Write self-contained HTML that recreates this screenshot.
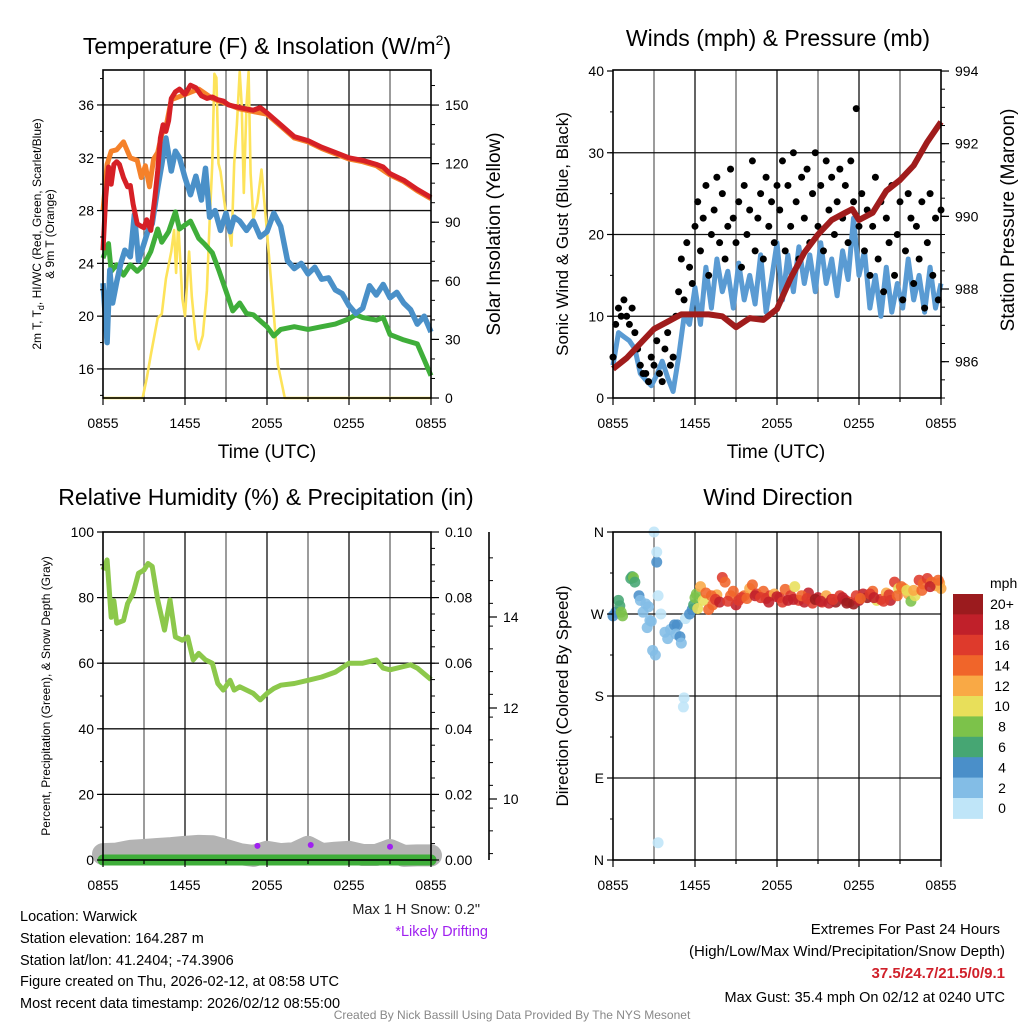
<!DOCTYPE html>
<html><head><meta charset="utf-8"><title>Mesonet Station Summary</title>
<style>
html,body{margin:0;padding:0;background:#fff;}
svg{display:block;font-family:"Liberation Sans",Arial,sans-serif;}
</style></head>
<body>
<svg id="fig" width="1024" height="1024" viewBox="0 0 1024 1024" xmlns="http://www.w3.org/2000/svg">
<rect x="0" y="0" width="1024" height="1024" fill="#fff"/>
<text x="267" y="54" font-size="23" text-anchor="middle">Temperature (F) &amp; Insolation (W/m<tspan font-size="14" dy="-9">2</tspan><tspan dy="9">)</tspan></text>
<text x="778" y="46" font-size="23" text-anchor="middle">Winds (mph) &amp; Pressure (mb)</text>
<text x="266" y="505" font-size="23" text-anchor="middle">Relative Humidity (%) &amp; Precipitation (in)</text>
<text x="778" y="505" font-size="23" text-anchor="middle">Wind Direction</text>
<text x="267" y="458" font-size="19" text-anchor="middle">Time (UTC)</text>
<text x="776" y="458" font-size="19" text-anchor="middle">Time (UTC)</text>
<text transform="translate(41,234) rotate(-90)" font-size="12" text-anchor="middle">2m T, T<tspan font-size="9" dy="3">d</tspan><tspan dy="-3">, HI/WC (Red, Green, Scarlet/Blue)</tspan></text>
<text transform="translate(54,234) rotate(-90)" font-size="12" text-anchor="middle">&amp; 9m T (Orange)</text>
<text transform="translate(500,234) rotate(-90)" font-size="19" text-anchor="middle">Solar Insolation (Yellow)</text>
<text transform="translate(568,234) rotate(-90)" font-size="17" text-anchor="middle">Sonic Wind &amp; Gust (Blue, Black)</text>
<text transform="translate(1014,220) rotate(-90)" font-size="19" text-anchor="middle">Station Pressure (Maroon)</text>
<text transform="translate(50,696) rotate(-90)" font-size="12" text-anchor="middle">Percent, Precipitation (Green), &amp; Snow Depth (Gray)</text>
<text transform="translate(568,696) rotate(-90)" font-size="17" text-anchor="middle">Direction (Colored By Speed)</text>
<text x="480" y="914" font-size="14.5" text-anchor="end" fill="#222">Max 1 H Snow: 0.2"</text>
<text x="488" y="936" font-size="14.5" text-anchor="end" fill="#a020f0">*Likely Drifting</text>
<g font-size="14.5" fill="#000">
<text x="20" y="921">Location: Warwick</text>
<text x="20" y="943">Station elevation: 164.287 m</text>
<text x="20" y="965">Station lat/lon: 41.2404; -74.3906</text>
<text x="20" y="986">Figure created on Thu, 2026-02-12, at 08:58 UTC</text>
<text x="20" y="1008">Most recent data timestamp: 2026/02/12 08:55:00</text>
</g>
<g font-size="15" text-anchor="end">
<text x="1000" y="934">Extremes For Past 24 Hours</text>
<text x="1005" y="956">(High/Low/Max Wind/Precipitation/Snow Depth)</text>
<text x="1005" y="978" fill="#d0202a" font-weight="bold">37.5/24.7/21.5/0/9.1</text>
<text x="1005" y="1002" font-size="14.5">Max Gust: 35.4 mph On 02/12 at 0240 UTC</text>
</g>
<text x="512" y="1019" font-size="12" fill="#888" text-anchor="middle">Created By Nick Bassill Using Data Provided By The NYS Mesonet</text>
</svg>
<script>
// ---------- DATA ----------
const timeTickLabels = ["0855","1455","2055","0255","0855"];
const tempTicks = [16,20,24,28,32,36];
const solarTicks = [0,30,60,90,120,150];
const windTicks = [0,10,20,30,40];
const presTicks = [986,988,990,992,994];
const rhTicks = [0,20,40,60,80,100];
const precipTicks = [0,0.02,0.04,0.06,0.08,0.10];
const snowTicks = [10,12,14];
const dirTickLabels = ["N","E","S","W","N"];
const dirTicks = [0,90,180,270,360];

const tempHrs = [0,0.2,0.4,0.6,0.8,1.0,1.2,1.5,1.8,2.0,2.2,2.5,2.8,3.0,3.2,3.5,3.8,4.0,4.2,4.4,4.6,4.8,5.0,5.3,5.6,6.0,6.4,6.8,7.2,7.6,8.0,8.4,8.8,9.2,9.6,10,10.5,11,11.5,12,13,14,15,16,17,18,19,20,20.5,21,22,23,24];
const tempVals = [25,29,31.3,30,31.5,31.7,31.5,30.5,29.8,29.9,28.5,27,26.8,26.7,27.3,26.5,29,31,33.5,34.5,34,34.8,36.5,37,37.2,36.8,37.5,37.3,36.7,36.5,36.6,36.4,36.3,36,35.9,35.8,35.7,35.6,35.8,35.4,34.5,33.6,33.3,32.8,32.4,32,31.8,31.5,31.3,30.8,30.3,29.6,29.0];
const t9Hrs = [0,0.3,0.6,1,1.5,2,2.5,2.8,3.1,3.4,3.7,4,4.3,4.6,5,6,7,8,9,10,11,12,13,14,15,16,17,18,19,20,21,22,23,24];
const t9Vals = [28,31.5,32.5,32.6,33.2,32,31.8,30.5,31.4,29.8,31.9,32.4,33.8,34.3,36.4,36.8,37.2,36.5,36.1,35.7,35.5,35.3,34.4,33.5,33.2,32.7,32.3,31.9,31.7,31.4,30.7,30.2,29.5,28.9];
const wcHrs = [0,0.3,0.5,0.7,1,1.3,1.6,2,2.3,2.6,3,3.3,3.6,4,4.3,4.6,5,5.3,5.6,6,6.4,6.8,7.2,7.5,7.8,8.2,8.6,9,9.3,9.6,10,10.5,11,11.5,12,12.5,13,13.5,14,14.5,15,15.5,16,16.5,17,17.5,18,18.5,19,19.5,20,20.5,21,21.5,22,22.5,23,23.5,24];
const wcVals = [22.5,18,23.5,21,22.6,24,25,24.5,27.7,24.2,25.5,26.5,27,29.7,31.5,33.5,31,32.5,32,30.5,29.2,30.6,28.8,31.2,27.5,28,26.5,27.8,26.4,27.5,27.2,26.5,27.2,26,26.4,27.8,26.8,24.2,23.6,24,23.2,23.7,22.8,22.9,22,21.7,20.8,20.2,20.6,22.3,21.6,22.4,21.4,21.8,21,20.5,19.4,20,18.8];
const dewHrs = [0,0.4,0.6,1,1.5,2,2.5,3,3.5,4,4.3,4.8,5.3,5.6,6,6.4,7,7.4,8,8.5,9,9.5,10,10.5,11,12,12.5,13,14,15,16,17,18,18.5,19,20,20.5,21,22,23,23.5,24];
const dewVals = [24.4,25.5,23.4,23.9,23.1,23.9,23.4,23.9,24.9,26.6,25.6,26.4,27.9,26.6,26.9,27.2,25.9,25.5,24.8,23.4,21.9,20.4,21,20.2,20.1,19.2,18.5,19,19.2,19,19.2,19.4,19.8,20.1,19.9,19.7,19.9,18.6,18.2,17.9,16.7,15.5];
const solarHrs = [0,2.9,3.2,3.5,4,4.3,4.6,5,5.2,5.35,5.5,5.8,6,6.3,6.5,6.8,7,7.3,7.6,7.8,8,8.15,8.3,8.45,8.6,9,9.4,9.6,9.8,10,10.15,10.3,10.5,10.65,10.8,11,11.3,11.6,12,12.4,12.8,13.3,24];
const solarVals = [0,0,10,22,41,43,61,75,86,64,90,51,42,75,52,30,25,32,55,90,120,166,164,120,116,94,78,120,140,167,150,105,150,167,115,92,100,117,85,51,17,0,0];

const windStep = 0.4;
const windVals = [4,8,7.5,7,6,3,2.2,1.5,2.8,4.5,2.5,0.8,5,10,9,13.5,9,16,11,17,13,15.5,11,16.5,12,15,11.5,17.5,10.5,14.5,19,12,17.5,13,18.5,14,17.5,13,19,14,17,12.5,18,14.5,22,15,18,11,15,10,16,10.5,14,11,17,12,15,10.5,16,11,14];
const gustStep = 0.2;
const gustVals = [5,9,11,10,12,10,9,11,8, 6,4,3,3,2,5,4, 7,3,2,6,8,4,5, 10,13,17,12,19,16,14,21,
 24,18,22,26,15,20,23,27,19,25,17,21,28,22,19,24,16,26,20,23,29,18,22,25,17,27,21,24,19,26,
 23,29,18,26,21,30,24,17,27,22,28,19,25,30,21,26,18,29,23,27,20,24,28,22,26,19,29,24,35.4,21,
 25,18,23,15,21,27,17,24,13,22,19,26,15,20,24,12,18,25,22,14,21,17,24,11,19,25,15,22,12,23];
const presHrs = [0,1,2,3,4,5,6,7,8,9,10,11,12,13,14,15,16,17,17.5,18,19,20,21,22,23,24];
const presVals = [985.8,986.1,986.5,986.9,987.1,987.3,987.3,987.3,987.25,986.95,987.2,987.15,987.45,988.3,989.0,989.5,989.9,990.1,990.2,989.9,990.1,990.7,991.0,991.4,992.05,992.6];

const rhHrs = [0,0.3,0.6,0.8,1,1.5,1.8,2.2,2.6,3,3.3,3.6,4,4.5,4.9,5.3,5.8,6.2,6.6,7,7.5,8,8.4,8.8,9.3,9.6,10,11,11.5,12,12.5,13,14,15,16,17,18,19,20,20.5,21,22,22.5,23,24];
const rhVals = [88.4,91.5,74,79,72.2,73,78.2,81.3,87.4,88.4,90.4,89.5,79.3,70.1,79.3,68,67,68,61,63,61,60,53.8,51.8,54.8,51.8,52.8,50.8,48.8,50.8,52.3,53.3,53.8,54.8,55.8,57.3,60,60,61,58.5,58,59,59.5,58.5,55];
const precipVals = [0,0,0,0,0,0,0,0,0,0,0,0,0,0,0,0,0,0,0,0,0,0,0,0,0];
const snowVals = [8.79,8.80,8.86,8.88,8.90,8.92,8.95,8.97,8.96,8.88,8.79,8.75,8.84,8.79,8.81,8.95,8.79,8.82,8.84,8.77,8.77,8.88,8.75,8.76,8.76];
const driftHrs = [11.3,15.2,21.0];
const driftVals = [8.97,8.99,8.95];

const dirHrs = [0,0.2,0.4,0.5,0.6,0.7,1.3,1.4,1.5,1.6,1.9,2.0,2.2,2.4,2.6,2.8,2.5,2.7,3.1,2.9,3.2,3.0,3.2,3.3,3.5,3.8,4.0,4.2,4.5,4.7,4.6,4.9,5.0,5.2,5.15,3.3,5.3,5.6,5.8,5.9,6.0,6.1,6.2,6.6,7.0,7.3,7.6,8.0,8.2,8.6,9.0,9.2,9.6,10.0,10.2,10.5,11.0,11.2,11.5,11.8,12.2,12.6,13.0,13.3,13.6,14.0,14.3,14.6,15.0,15.3,15.6,16.0,16.3,16.6,17.0,17.3,17.6,18.0,18.3,18.6,19.0,19.3,19.6,20.0,20.3,20.6,20.9,21.3,21.6,21.8,22.1,22.4,22.7,23.0,23.3,23.6,23.9,24.0,
 6.4,6.8,7.2,7.5,7.8,8.4,8.8,9.4,9.8,10.4,10.8,11.4,12.0,12.4,12.8,13.2,13.8,14.2,14.8,15.2,15.8,16.1,16.8,17.1,17.8,18.1,18.8,19.1,19.8,20.2,20.8,21.1,21.5,22.0,22.6,23.2,23.8];
const dirDegs = [268,272,285,279,272,268,309,311,310,305,290,285,272,281,278,262,255,263,225,230,327,360,338,290,270,250,243,253,258,258,248,245,238,178,168,19,265,270,275,280,288,292,276,285,275,280,291,310,305,290,280,285,290,298,302,292,295,287,290,292,288,297,290,300,285,283,293,282,288,283,290,286,283,290,285,283,281,285,292,288,295,285,286,293,285,305,298,298,292,284,290,307,303,309,305,301,304,298,
 300,293,290,286,283,284,295,288,287,290,288,283,289,283,285,286,290,287,286,284,282,286,288,282,290,287,292,288,284,291,290,300,296,296,296,300,307];
const dirSpds = [4,4,7,6,8,8,7,6,8,6,4,3,3,2,3,2,2,2,2,2,4,0,1,1,1,3,3,2,4,4,3,4,3,0,0,0,1,4,5,6,8,8,10,10,14,14,12,16,14,15,18,17,14,12,14,16,14,18,16,12,16,14,16,10,16,18,18,16,18,16,13,18,20,16,18,16,20,18,18,20,14,10,16,12,18,16,10,12,12,8,10,16,14,16,14,12,12,12,
 12,14,14,16,18,16,14,16,14,18,16,18,18,16,18,18,14,16,20,18,18,16,18,20,16,14,16,18,16,16,14,14,10,12,14,18,14];
const speedLabels = ["0","2","4","6","8","10","12","14","16","18","20+"];
const speedColors = ["#bfe5f8","#83bde6","#4a8fc9","#46a673","#7cc24a","#e8df5a","#f9a945","#f0652a","#de3a2c","#c0202a","#9b1b1e"];

// ---------- SCALES ----------
const NS = "http://www.w3.org/2000/svg";
const svg = document.getElementById("fig");
const HRPX = 13.667;
const xL = h => 103 + h*HRPX;
const xR = h => 613 + h*HRPX;
const tempY = t => 398 - (t-13.8)*13.2;
const solarY = s => 398 - s*1.953;
const windY = w => 398 - w*8.175;
const presY = p => 398 - (p-985)*36.33;
const rhY = r => 860 - r*3.28;
const precipY = p => 860 - p*3280;
const snowY = s => 799 - (s-10)*45.5;
const dirY = d => 860 - d*0.9111;

function mk(tag, attrs, parent){
  const e = document.createElementNS(NS, tag);
  for (const k in attrs) e.setAttribute(k, attrs[k]);
  (parent||svg).appendChild(e);
  return e;
}
function poly(hrs, vals, xf, yf){
  let pts = [];
  const n = Math.min(hrs.length, vals.length);
  for (let i=0;i<n;i++) pts.push(xf(hrs[i]).toFixed(1)+","+yf(vals[i]).toFixed(1));
  return pts.join(" ");
}

// ---------- FRAMES / GRIDS ----------
function frame(x0, y0, name){
  const g = mk("g", {});
  
  
  for (let k=1;k<8;k++){
    const x = x0 + k*41;
    const l = mk("line", {x1:x, y1:y0, x2:x, y2:y0+328, stroke: k%2? "#666":"#111", "stroke-width":1.3}, g);
    
    
  }
  return g;
}
function hgrid(g, x0, ys){
  ys.forEach(y=>{
    const l = mk("line", {x1:x0, y1:y, x2:x0+328, y2:y, stroke:"#111", "stroke-width":1.3}, g);
    
    
  });
}
function border(x0,y0,name){
  const r = mk("rect", {x:x0, y:y0, width:328, height:328, fill:"none", stroke:"#000", "stroke-width":1.6});
  
  
}
function xAxis(x0, y, name){
  const g = mk("g", {"font-size":14, "text-anchor":"middle"});
  
  
  for (let k=0;k<=8;k++){
    mk("line",{x1:x0+k*41,y1:y,x2:x0+k*41,y2:y+(k%2?4:7),stroke:"#000","stroke-width":1.2},g);
  }
  timeTickLabels.forEach((lab,i)=>{
    const t = mk("text",{x:x0+i*82, y:y+30},g);
    t.textContent = lab;
    
    
  });
}
function yAxisLeft(x, ticks, yf, labelsFn, name, minor){
  const g = mk("g", {"font-size":14, "text-anchor":"end"});
  
  
  if (minor) minor.forEach(v=>mk("line",{x1:x,y1:yf(v),x2:x-3,y2:yf(v),stroke:"#000","stroke-width":1},g));
  ticks.forEach((v,i)=>{
    mk("line",{x1:x,y1:yf(v),x2:x-6,y2:yf(v),stroke:"#000","stroke-width":1.2},g);
    const t = mk("text",{x:x-9,y:yf(v)+5},g);
    t.textContent = labelsFn(v,i);
    
    
  });
}
function yAxisRight(x, ticks, yf, labelsFn, name, minor, lx){
  const g = mk("g", {"font-size":14, "text-anchor":"start"});
  
  
  if (minor) minor.forEach(v=>mk("line",{x1:x,y1:yf(v),x2:x+4,y2:yf(v),stroke:"#000","stroke-width":1},g));
  ticks.forEach((v,i)=>{
    mk("line",{x1:x,y1:yf(v),x2:x+8,y2:yf(v),stroke:"#000","stroke-width":1.2},g);
    const t = mk("text",{x:lx||x+14,y:yf(v)+5},g);
    t.textContent = labelsFn(v,i);
    
    
  });
}
const range = (a,b,s)=>{let r=[];for(let v=a;v<=b+1e-9;v+=s)r.push(+v.toFixed(4));return r;};

// ---------- PANEL 1 ----------
let g1 = frame(103,70,'temperature');
hgrid(g1,103,tempTicks.map(tempY));
const solarLine = mk("polyline",{points:poly(solarHrs,solarVals,xL,solarY),fill:"none",stroke:"#fde35a","stroke-width":2.6,"stroke-linejoin":"round"});


const dewLine = mk("polyline",{points:poly(dewHrs,dewVals,xL,tempY),fill:"none",stroke:"#3fae3a","stroke-width":5,"stroke-linejoin":"round"});


const wcLine = mk("polyline",{points:poly(wcHrs,wcVals,xL,tempY),fill:"none",stroke:"#4a90c8","stroke-width":5.5,"stroke-linejoin":"round"});


const t9Line = mk("polyline",{points:poly(t9Hrs,t9Vals,xL,tempY),fill:"none",stroke:"#f5812a","stroke-width":5,"stroke-linejoin":"round"});


const tLine = mk("polyline",{points:poly(tempHrs,tempVals,xL,tempY),fill:"none",stroke:"#d62026","stroke-width":5,"stroke-linejoin":"round"});


border(103,70,'temperature');
xAxis(103,398,'temperature');
yAxisLeft(103,tempTicks,tempY,v=>String(v),'temperature-y-axis',range(14,38,2));
yAxisRight(431,solarTicks,solarY,v=>String(v),'solar-y-axis',range(0,160,10));

// ---------- PANEL 2 ----------
let g2 = frame(613,70,'winds');
hgrid(g2,613,[10,20,30].map(windY));
const windLine = mk("polyline",{points:windVals.map((v,i)=>xR(i*windStep).toFixed(1)+","+windY(v).toFixed(1)).join(" "),fill:"none",stroke:"#5a9bd3","stroke-width":5,"stroke-linejoin":"round"});


const gustG = mk("g",{});


gustVals.forEach((v,i)=>{
  const c = mk("circle",{cx:xR(i*gustStep),cy:windY(v),r:3.5,fill:"#000"},gustG);
  
  
});
const presLine = mk("polyline",{points:poly(presHrs,presVals,xR,presY),fill:"none",stroke:"#a01c1c","stroke-width":6,"stroke-linejoin":"round"});


border(613,70,'winds');
xAxis(613,398,'winds');
yAxisLeft(613,windTicks,windY,v=>String(v),'wind-y-axis',range(0,40,5));
yAxisRight(941,presTicks,presY,v=>String(v),'pressure-y-axis',range(985,994,0.5));

// ---------- PANEL 3 ----------
let g3 = frame(103,532,'humidity');
hgrid(g3,103,[20,40,60,80].map(rhY));
const snowLine = mk("polyline",{points:snowVals.map((v,i)=>xL(i).toFixed(1)+","+snowY(v).toFixed(1)).join(" "),fill:"none",stroke:"#b3b3b3","stroke-width":22,"stroke-linejoin":"round","stroke-linecap":"round"});


const precipLine = mk("polyline",{points:precipVals.map((v,i)=>xL(i).toFixed(1)+","+precipY(v).toFixed(1)).join(" "),fill:"none",stroke:"#3fae3a","stroke-width":11,"stroke-linecap":"round"});


driftHrs.forEach((h,i)=>{
  const c = mk("circle",{cx:xL(h),cy:snowY(driftVals[i]),r:3,fill:"#a020f0"});
  
  
});
const rhLine = mk("polyline",{points:poly(rhHrs,rhVals,xL,rhY),fill:"none",stroke:"#8cc84b","stroke-width":5,"stroke-linejoin":"round"});


border(103,532,'humidity');
xAxis(103,860,'humidity');
yAxisLeft(103,rhTicks,rhY,v=>String(v),'humidity-y-axis',range(0,100,10));
yAxisRight(431,precipTicks,precipY,v=>v.toFixed(2),'precipitation-y-axis',range(0,0.1,0.005));
const snowAxis = mk("line",{x1:489,y1:532,x2:489,y2:860,stroke:"#000","stroke-width":1.6});


yAxisRight(489,snowTicks,snowY,v=>String(v),'snow-y-axis',range(8.8,15.6,0.5),503);

// ---------- PANEL 4 ----------
let g4 = frame(613,532,'direction');
hgrid(g4,613,[90,180,270].map(dirY));
const dirG = mk("g",{"fill-opacity":0.88});


const nDir = Math.min(dirHrs.length, dirDegs.length, dirSpds.length);
for (let i=0;i<nDir;i++){
  const bin = Math.min(10, Math.floor(dirSpds[i]/2));
  const c = mk("circle",{cx:xR(dirHrs[i]),cy:dirY(dirDegs[i]),r:5.5,fill:speedColors[bin]},dirG);
  
  
}
border(613,532,'direction');
xAxis(613,860,'direction');
yAxisLeft(613,dirTicks,dirY,(v,i)=>dirTickLabels[i],'direction-y-axis',range(0,360,45));

const cb = mk("g",{"font-size":14});


const cbTitle = mk("text",{x:990,y:588},cb);
cbTitle.textContent = "mph";


const boxH = 20.4;
for (let k=0;k<speedColors.length;k++){
  const idx = speedColors.length-1-k;
  const y = 594 + k*boxH;
  const r = mk("rect",{x:953,y:y,width:30,height:boxH+0.5,fill:speedColors[idx]},cb);
  
  
  const t = mk("text",{x:1002,y:y+boxH/2+5,"text-anchor":"middle"},cb);
  t.textContent = speedLabels[idx];
  
  
}
</script>
</body></html>
